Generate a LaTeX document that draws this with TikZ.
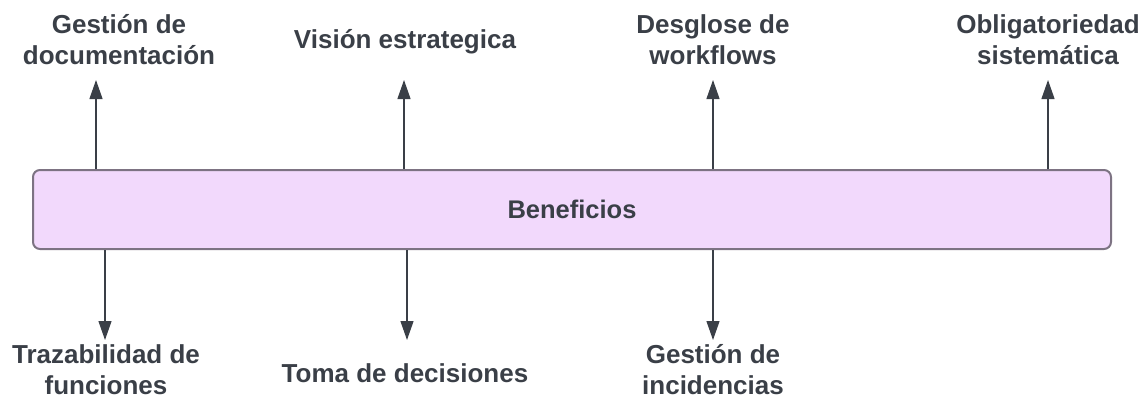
\documentclass[tikz,border=0pt]{standalone}
\usepackage{fontspec}
\setmainfont{Liberation Sans}
\usetikzlibrary{arrows.meta}
\definecolor{txt}{HTML}{3A3F47}
\definecolor{boxfill}{HTML}{F2D9FC}
\definecolor{boxline}{HTML}{7D7383}
\definecolor{arrcol}{HTML}{3A3F47}
\begin{document}
\begin{tikzpicture}[x=1pt,y=-1pt,
  lbl/.style={font=\bfseries\fontsize{26}{31}\selectfont, text=txt, align=center, inner sep=0pt},
  arr/.style={draw=arrcol, line width=1.2pt, -{Triangle[length=19pt,width=13pt]}},
  mainbox/.style={draw=boxline, fill=boxfill, line width=2pt, rounded corners=7pt,
    minimum width=1078pt, minimum height=79pt, inner sep=0pt,
    font=\bfseries\fontsize{25.5}{30}\selectfont, text=txt}]
\useasboundingbox (0,0) rectangle (1146,400);
\node[mainbox] (box) at (572,209.5) {Beneficios};
% top labels
\node[lbl] (t1) at (119,40) {Gestión de\\documentación};
\node[lbl] (t2) at (405,42) {Visión estrategica};
\node[lbl] (t3) at (713,40) {Desglose de\\workflows};
\node[lbl] (t4) at (1048,40) {Obligatoriedad\\sistemática};
% bottom labels
\node[lbl] (b1) at (106,370) {Trazabilidad de\\funciones};
\node[lbl] (b2) at (405,373) {Toma de decisiones};
\node[lbl] (b3) at (713,370) {Gestión de\\incidencias};
% arrow tips
\coordinate (ta1) at (96,80);
\coordinate (ta2) at (404,80);
\coordinate (ta3) at (713,80);
\coordinate (ta4) at (1048,80);
\coordinate (ba1) at (105,340);
\coordinate (ba2) at (407,340);
\coordinate (ba3) at (713,340);
\draw[arr] (box.north -| ta1) -- (ta1);
\draw[arr] (box.north -| ta2) -- (ta2);
\draw[arr] (box.north -| ta3) -- (ta3);
\draw[arr] (box.north -| ta4) -- (ta4);
\draw[arr] (box.south -| ba1) -- (ba1);
\draw[arr] (box.south -| ba2) -- (ba2);
\draw[arr] (box.south -| ba3) -- (ba3);
\end{tikzpicture}
\end{document}
